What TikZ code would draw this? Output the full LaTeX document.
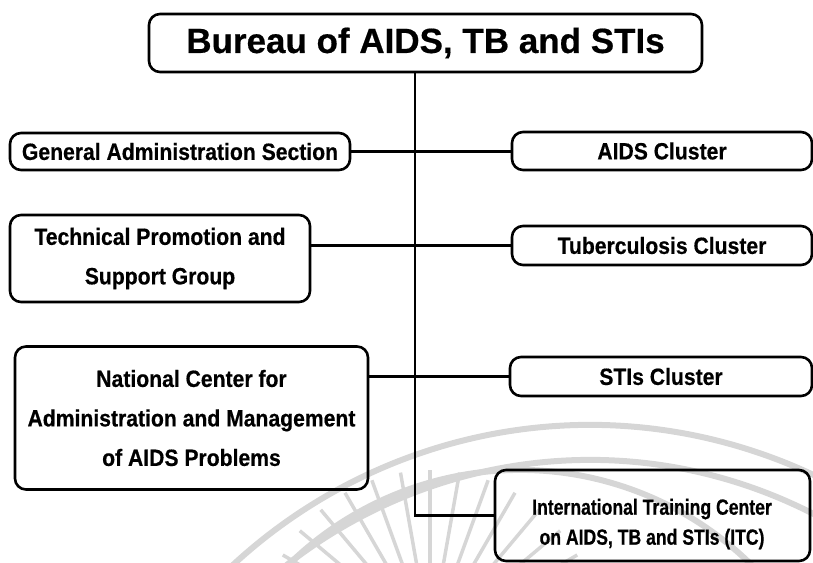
\documentclass[tikz,border=0pt]{standalone}
\usepackage{fontspec}
\setmainfont{Liberation Sans}[BoldFeatures={FakeBold=0.5}]
\newfontfamily\nbf{Liberation Sans}[FakeStretch=0.9, BoldFeatures={FakeBold=0.5}]
\newfontfamily\nbfx{Liberation Sans}[FakeStretch=0.8, BoldFeatures={FakeBold=0.5}]
\begin{document}
\begin{tikzpicture}[x=1pt,y=-1pt,
  box/.style={draw=black, line width=2.6pt, rounded corners=11pt, inner sep=0pt, align=center},
  lbl/.style={font=\nbf\bfseries\fontsize{23.5}{39.5}\selectfont, align=center},
  lblx/.style={font=\nbfx\bfseries\fontsize{22}{30}\selectfont, align=center},
  link/.style={line width=2.3pt},
  wmarc/.style={draw=black!16, line width=6pt},
  wmray/.style={draw=black!16, line width=3.5pt}]
\useasboundingbox (0,0) rectangle (813,562);
% faint watermark
\begin{scope}
\clip (0,0) rectangle (813,562);
\draw[wmarc] (590,950) ++(200:525) arc[start angle=200, end angle=345, radius=525];
\draw[wmarc] (590,950) ++(205:490) arc[start angle=205, end angle=345, radius=490];
\draw[wmarc] (520,800) ++(200:330) arc[start angle=200, end angle=345, radius=330];
\foreach \a in {200,210,...,340} \draw[wmray] (430,640) ++(\a:75) -- ++(\a:95);
\end{scope}
% boxes
\node[box, minimum width=553, minimum height=58, font=\bfseries\fontsize{35}{40}\selectfont] (top) at (425.5,43) {Bureau of AIDS, TB and STIs};
\node[box, lbl, minimum width=340, minimum height=37] (gas) at (180,151.5) {General Administration Section};
\node[box, lbl, minimum width=300, minimum height=87] (tps) at (160,258.5) {Technical Promotion and\\Support Group};
\node[box, lbl, minimum width=353, minimum height=143] (nc) at (191.5,418) {National Center for\\Administration and Management\\of AIDS Problems};
\node[box, lbl, minimum width=300, minimum height=38] (aids) at (662,151) {AIDS Cluster};
\node[box, lbl, minimum width=300, minimum height=39] (tb) at (662,245.5) {Tuberculosis Cluster};
\node[box, lbl, minimum width=302, minimum height=39] (sti) at (661,376.5) {STIs Cluster};
\node[box, minimum width=315, minimum height=91] (itc) at (652.5,515.5) {};
\node[lblx] (itct) at (652,524) {International Training Center\\on AIDS, TB and STIs (ITC)};
% connectors
\coordinate (spine) at (415,0);
\draw[link] (spine |- top.south) -- (spine |- itc.west) -- (itc.west);
\draw[link] (gas.east) -- (gas.east -| aids.west);
\draw[link] (tb.west -| tps.east) -- (tb.west);
\draw[link] (sti.west -| nc.east) -- (sti.west);
\end{tikzpicture}
\end{document}
